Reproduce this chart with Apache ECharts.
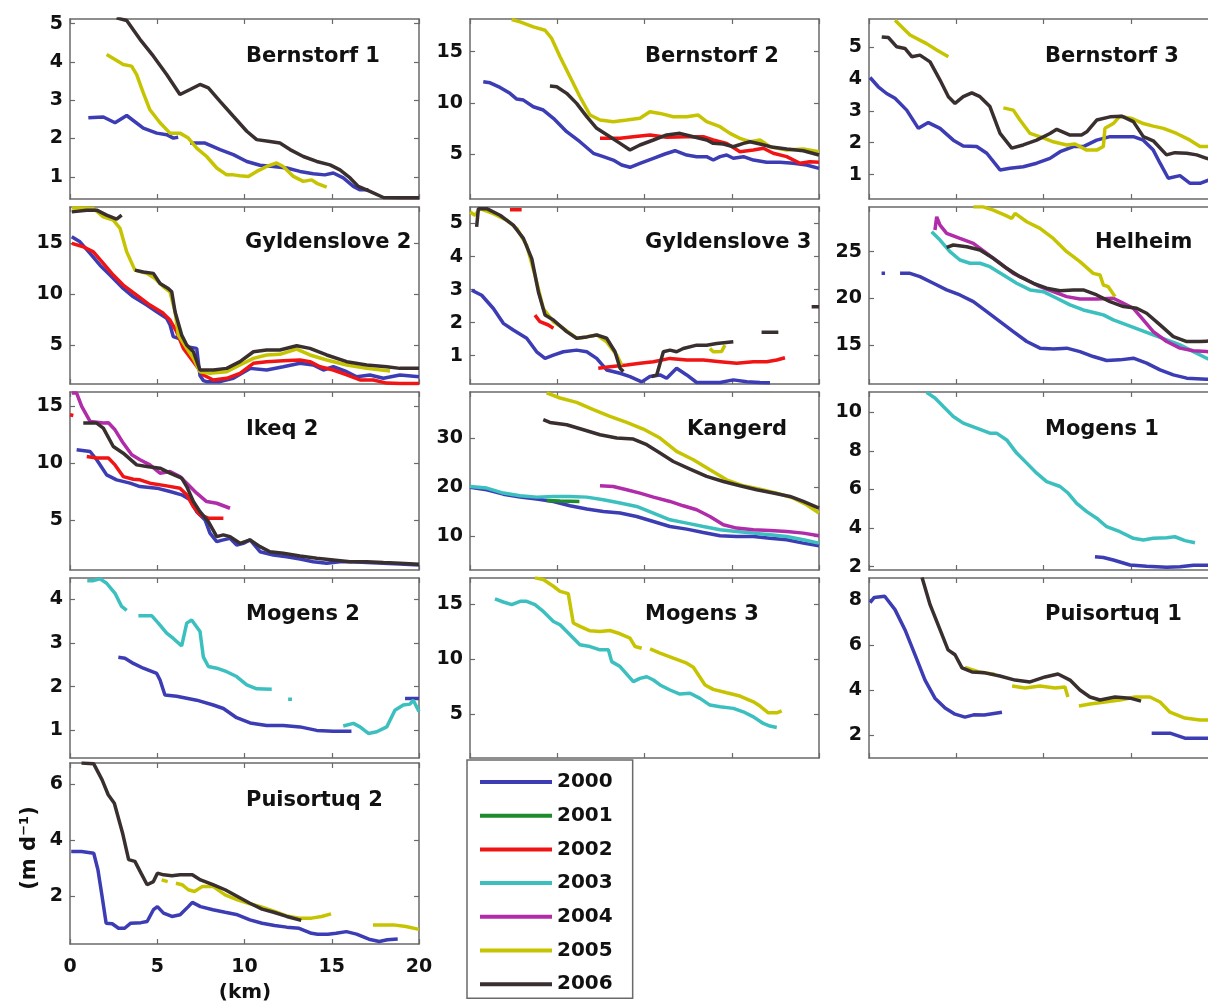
<!DOCTYPE html>
<html><head><meta charset="utf-8">
<script src="https://cdn.jsdelivr.net/npm/echarts@6/dist/echarts.min.js"></script>
<style>html,body{margin:0;padding:0;background:#fff}#c{width:1208px;height:1003px}</style>
</head><body><div id="c"></div><script>
// ---------------- DATA ----------------
const YEARS = ['2000','2001','2002','2003','2004','2005','2006'];
const xTicks = [0,5,10,15,20];

// Bernstorf 1
const b1_yRange = [0.42, 5.12];
const b1_yTicks = [1,2,3,4,5];
const b1_2000 = [
 [[1.05,2.54],[1.91,2.56],[2.58,2.41],[3.25,2.6],[4.2,2.27],[4.97,2.14],[5.54,2.1],[5.92,2.01],[6.2,2.03]],
 [[6.88,1.88],[7.74,1.88],[8.6,1.71],[9.36,1.58],[10.13,1.4],[10.89,1.3],[11.65,1.27],[12.42,1.23],[13.18,1.14],[13.94,1.08],[14.6,1.05],[15.09,1.1],[15.66,0.97],[16.24,0.75],[16.6,0.66],[17.1,0.66]]];
const b1_2005 = [
 [[2.1,4.19],[2.58,4.06],[3.05,3.93],[3.53,3.89],[3.82,3.67],[4.2,3.19],[4.58,2.75],[5.16,2.41],[5.73,2.14],[6.3,2.14],[6.78,2.01],[7.26,1.75],[7.83,1.53],[8.41,1.23],[8.98,1.05],[9.36,1.05],[9.74,1.03],[10.22,1.01],[10.7,1.14],[11.27,1.27],[11.84,1.36],[12.22,1.27],[12.8,1.01],[13.37,0.88],[13.85,0.92],[14.14,0.83],[14.71,0.73]]];
const b1_2006 = [
 [[2.67,5.15],[3.25,5.08],[4.01,4.59],[4.78,4.15],[5.54,3.67],[6.3,3.15],[6.88,3.28],[7.45,3.41],[7.93,3.32],[8.6,2.97],[9.36,2.58],[10.13,2.19],[10.7,1.97],[11.46,1.92],[12.03,1.88],[12.61,1.71],[13.37,1.53],[14.14,1.4],[14.9,1.31],[15.47,1.18],[16.05,0.97],[16.52,0.75],[17.19,0.62],[17.96,0.46],[18.9,0.45],[20,0.45]]];

// Bernstorf 2
const b2_yRange = [0.6, 18.2];
const b2_yTicks = [5,10,15];
const b2_2000 = [
 [[0.76,12.06],[1.15,11.96],[1.72,11.51],[2.29,10.93],[2.68,10.37],[3.06,10.27],[3.63,9.62],[4.2,9.3],[4.78,8.49],[5.54,7.18],[6.3,6.2],[7.07,5.07],[7.64,4.74],[8.21,4.41],[8.69,3.93],[9.17,3.7],[9.74,4.09],[10.51,4.58],[11.17,5.0],[11.75,5.32],[12.42,4.9],[12.99,4.74],[13.56,4.74],[13.94,4.41],[14.33,4.74],[14.71,4.9],[15.09,4.58],[15.67,4.74],[16.24,4.41],[17,4.19],[17.77,4.19],[18.53,4.09],[19.29,3.93],[20,3.6]]];
const b2_2002 = [
 [[7.45,6.53],[8.6,6.53],[9.36,6.69],[10.31,6.86],[11.27,6.63],[12.42,6.69],[13.37,6.69],[13.94,6.37],[14.71,6.04],[15.47,5.23],[16.24,5.39],[16.81,5.56],[17.38,5.07],[18.15,4.74],[18.91,4.09],[19.48,4.25],[20,4.19]]];
const b2_2005 = [
 [[2.39,18.15],[2.87,17.92],[3.63,17.43],[4.3,17.1],[4.68,16.3],[5.16,14.5],[5.73,12.55],[6.3,10.6],[6.88,8.81],[7.45,8.32],[8.21,8.16],[8.98,8.32],[9.74,8.49],[10.31,9.13],[10.89,8.97],[11.65,8.64],[12.42,8.64],[13.08,8.81],[13.56,8.16],[14.33,7.67],[14.9,7.02],[15.47,6.53],[16.05,6.2],[16.62,6.37],[17.19,5.71],[18.15,5.39],[19.1,5.49],[20,5.23]]];
const b2_2006 = [
 [[4.58,11.64],[4.97,11.58],[5.54,10.93],[6.11,9.95],[6.69,8.65],[7.26,7.51],[8.02,6.69],[8.6,6.04],[9.17,5.39],[9.74,5.88],[10.51,6.37],[11.27,6.86],[12.03,7.02],[12.8,6.69],[13.56,6.37],[13.94,6.04],[14.52,5.98],[15.09,5.71],[15.67,6.04],[16.05,6.2],[16.62,5.98],[17.38,5.65],[18.15,5.49],[19.1,5.32],[20,4.9]]];

// Bernstorf 3
const b3_yRange = [0.24, 5.87];
const b3_yTicks = [1,2,3,4,5];
const b3_2000 = [
 [[0.06,4.04],[0.53,3.75],[1.01,3.54],[1.49,3.39],[2.16,3.02],[2.83,2.45],[3.4,2.63],[4.07,2.45],[4.83,2.08],[5.4,1.9],[6.17,1.88],[6.75,1.67],[7.51,1.15],[8.08,1.2],[8.84,1.25],[9.61,1.36],[10.37,1.51],[10.95,1.72],[11.71,1.88],[12.28,1.88],[13.05,2.08],[13.81,2.19],[15.15,2.19],[15.72,2.08],[16.29,1.77],[16.68,1.36],[17.15,0.89],[17.82,0.97],[18.4,0.73],[18.97,0.73],[19.45,0.83],[20,0.88]]];
const b3_2005 = [
 [[1.49,5.83],[2.35,5.37],[3.3,5.1],[3.88,4.9],[4.55,4.69]],
 [[7.7,3.09],[8.27,3.02],[8.65,2.71],[9.23,2.29],[9.9,2.17],[10.56,2.03],[11.33,1.93],[11.81,1.96],[12.48,1.77],[13.05,1.77],[13.43,1.88],[13.52,2.45],[14,2.6],[14.38,2.83],[15.05,2.76],[15.72,2.6],[16.29,2.52],[16.87,2.45],[17.63,2.29],[18.4,2.08],[18.97,1.88],[19.45,1.88],[20,1.86]]];
const b3_2006 = [
 [[0.73,5.31],[1.11,5.29],[1.59,5.0],[2.06,4.95],[2.45,4.69],[2.92,4.74],[3.5,4.53],[4.07,3.96],[4.55,3.44],[4.93,3.23],[5.4,3.44],[5.89,3.56],[6.36,3.44],[6.93,3.13],[7.51,2.29],[8.18,1.83],[8.84,1.93],[9.61,2.08],[10.37,2.29],[10.76,2.42],[11.52,2.24],[12.18,2.24],[12.48,2.34],[13.05,2.71],[13.81,2.81],[14.48,2.83],[15.15,2.66],[15.72,2.19],[16.29,2.06],[17.05,1.62],[17.53,1.69],[18.21,1.67],[18.78,1.62],[19.35,1.51],[20,1.45]]];

// Gyldenslove 2
const g2_yRange = [1.16, 18.6];
const g2_yTicks = [5,10,15];
const g2_2000 = [
 [[0.1,15.66],[0.57,15.17],[1.15,14.03],[1.72,12.87],[2.29,11.89],[3.05,10.58],[3.63,9.75],[4.4,8.94],[4.97,8.28],[5.54,7.63],[5.73,7.0],[5.92,5.82],[6.3,5.6],[6.69,4.83],[7.26,4.67],[7.45,2.0],[7.64,1.5],[7.83,1.39],[8.6,1.39],[9.36,1.72],[10.32,2.7],[11.27,2.54],[12.22,2.86],[13.18,3.2],[13.94,3.03],[14.52,2.54],[15.09,2.86],[15.86,2.37],[16.43,1.88],[17.19,2.05],[17.96,1.72],[18.91,2.05],[20,1.88]]];
const g2_2002 = [
 [[0.1,15.01],[0.76,14.68],[1.34,14.18],[1.91,13.04],[2.48,11.89],[3.05,10.91],[3.82,9.92],[4.58,8.94],[5.35,8.12],[5.73,7.46],[6.11,6.31],[6.5,4.67],[7.07,3.36],[7.64,2.05],[8.21,1.56],[8.98,1.72],[9.74,2.21],[10.51,3.2],[11.27,3.36],[12.22,3.45],[13.18,3.52],[13.75,3.36],[14.33,2.86],[15.09,2.54],[15.86,2.05],[16.62,1.56],[17.38,1.56],[18.15,1.25],[18.91,1.2],[20,1.2]]];
const g2_2005 = [
 [[0.1,18.51],[0.76,18.51],[1.34,18.45],[1.91,17.63],[2.48,17.3],[2.87,16.49],[3.25,14.18],[3.72,12.38],[4.4,12.06],[4.87,11.56],[5.35,10.74],[5.73,10.25],[6.02,8.28],[6.21,5.98],[6.69,4.67],[7.07,3.69],[7.45,2.37],[8.02,2.21],[8.98,2.37],[9.74,3.03],[10.51,3.69],[11.27,4.02],[12.03,4.08],[12.99,4.6],[13.75,4.02],[14.71,3.52],[15.86,3.03],[17,2.7],[18.34,2.44]]];
const g2_2006 = [
 [[0.1,18.12],[0.96,18.29],[1.53,18.29],[2.1,17.8],[2.67,17.4],[2.96,17.8]],
 [[3.72,12.38],[4.2,12.2],[4.78,12.06],[5.16,11.07],[5.63,10.58],[5.83,10.25],[6.02,8.28],[6.4,5.98],[6.69,5.0],[7.07,4.34],[7.45,2.54],[8.21,2.54],[8.98,2.7],[9.74,3.36],[10.51,4.34],[11.27,4.51],[12.03,4.51],[12.99,4.93],[13.75,4.67],[14.71,4.02],[15.86,3.36],[17,3.03],[18.15,2.86],[18.91,2.7],[20,2.7]]];

// Gyldenslove 3
const g3_yRange = [0.145, 5.5];
const g3_yTicks = [1,2,3,4,5];
const g3_2000 = [
 [[0.1,2.98],[0.67,2.83],[1.34,2.43],[1.91,1.98],[2.48,1.78],[3.25,1.53],[3.82,1.12],[4.3,0.92],[4.78,1.02],[5.35,1.12],[6.11,1.17],[6.69,1.12],[7.26,0.92],[7.83,0.57],[8.6,0.47],[9.17,0.37],[9.84,0.21],[10.31,0.37],[10.89,0.42],[11.27,0.32],[11.84,0.62],[12.42,0.42],[12.99,0.19],[14.33,0.19],[15.09,0.27],[15.86,0.21],[16.62,0.19],[17.19,0.18]]];
const g3_2002 = [
 [[2.29,5.42],[2.96,5.42]],
 [[3.72,2.23],[4.01,2.03],[4.49,1.93],[4.78,1.83]],
 [[7.35,0.62],[8.02,0.67],[8.98,0.72],[9.74,0.77],[10.51,0.82],[11.46,0.92],[12.42,0.87],[13.37,0.87],[14.33,0.82],[15.28,0.77],[16.24,0.82],[17,0.82],[17.58,0.87],[18.05,0.94]]];
const g3_2005 = [
 [[0,5.35],[0.29,5.25],[0.57,5.45],[1.34,5.3],[2.1,5.1],[2.68,4.85],[3.25,4.34],[3.72,3.44],[4.2,2.43],[4.78,2.03],[5.35,1.83],[6.11,1.53],[6.69,1.57],[7.26,1.63],[7.83,1.42],[8.41,1.02],[8.69,0.72]],
 [[13.75,1.22],[13.94,1.12],[14.42,1.13],[14.61,1.32]]];
const g3_2006 = [
 [[0.38,4.9],[0.48,5.45],[0.96,5.45],[1.72,5.25],[2.48,4.95],[3.06,4.55],[3.54,3.94],[3.92,2.93],[4.3,2.23],[4.78,2.08],[5.54,1.73],[6.11,1.53],[6.69,1.57],[7.26,1.63],[7.83,1.53],[8.31,1.12],[8.6,0.62],[8.79,0.52]],
 [[10.41,0.37],[10.7,0.42],[11.08,1.12],[11.46,1.17],[11.84,1.12],[12.22,1.22],[12.99,1.32],[13.56,1.32],[14.14,1.37],[15.09,1.42]],
 [[16.71,1.71],[17.67,1.71]],
 [[19.58,2.48],[20,2.48]]];

// Helheim
const hel_yRange = [10.8, 29.8];
const hel_yTicks = [15,20,25];
const hel_2000 = [
 [[0.72,22.68],[0.92,22.68]],
 [[1.78,22.68],[2.35,22.68],[2.92,22.32],[3.69,21.61],[4.45,20.9],[5.21,20.36],[5.98,19.64],[6.75,18.57],[7.51,17.5],[8.27,16.43],[9.04,15.36],[9.8,14.65],[10.56,14.57],[11.33,14.65],[12.09,14.28],[12.85,13.75],[13.62,13.32],[14.38,13.39],[15.15,13.57],[15.91,13.04],[16.68,12.32],[17.44,11.78],[18.21,11.43],[19.35,11.32],[20,11.3]]];
const hel_2003 = [
 [[3.59,27.14],[4.07,26.25],[4.64,25.0],[5.21,24.11],[5.79,23.76],[6.36,23.76],[6.93,23.39],[7.7,22.5],[8.46,21.61],[9.23,20.9],[9.99,20.71],[10.76,20.0],[11.52,19.29],[12.28,18.75],[13.05,18.4],[13.43,18.22],[14,17.68],[14.77,17.14],[15.53,16.61],[16.29,16.07],[17.06,15.54],[17.82,15.0],[18.59,14.28],[19.35,13.57],[20,13.0]]];
const hel_2004 = [
 [[3.78,27.33],[3.88,28.75],[4.07,27.86],[4.45,26.97],[5.21,26.43],[5.98,25.9],[6.75,24.83],[7.51,23.76],[8.27,22.68],[9.04,21.97],[9.8,21.25],[10.56,20.71],[11.33,20.18],[12.09,19.93],[13.05,19.93],[14,20.0],[14.58,19.47],[15.15,18.93],[15.72,17.68],[16.29,16.43],[17.06,15.36],[17.82,14.65],[18.59,14.36],[19.35,14.28],[20,14.2]]];
const hel_2005 = [
 [[5.98,29.82],[6.55,29.82],[7.12,29.47],[7.79,28.93],[8.18,28.58],[8.37,29.11],[9.04,28.22],[9.8,27.5],[10.56,26.43],[11.33,25.0],[12.09,23.93],[12.85,22.68],[13.24,22.5],[13.43,21.43],[13.71,21.25],[14.1,20.18]]];
const hel_2006 = [
 [[4.45,25.47],[4.83,25.72],[5.6,25.54],[6.36,25.18],[7.12,24.29],[7.89,23.22],[8.65,22.32],[9.42,21.61],[10.18,21.08],[10.95,20.82],[11.71,20.9],[12.28,20.9],[13.05,20.36],[13.81,19.64],[14.58,19.11],[15.34,18.93],[15.91,18.4],[16.68,17.14],[17.44,15.89],[18.21,15.36],[18.97,15.36],[19.35,15.4],[20,15.45]]];

// Ikeq 2
const ik_yRange = [0.59, 16.27];
const ik_yTicks = [5,10,15];
const ik_2000 = [
 [[0.38,11.18],[1.15,11.03],[1.53,10.3],[2.1,8.97],[2.67,8.53],[3.44,8.24],[4.01,7.94],[4.97,7.8],[5.73,7.5],[6.4,7.21],[6.88,6.77],[7.26,5.73],[7.74,5.0],[8.02,3.83],[8.41,3.09],[8.79,3.24],[9.17,3.38],[9.55,2.79],[9.93,2.94],[10.32,3.24],[10.89,2.2],[11.65,1.91],[12.42,1.76],[13.18,1.56],[13.94,1.32],[14.71,1.18],[15.47,1.32],[16.24,1.32],[17,1.24],[17.96,1.18],[18.91,1.12],[20,1.03]]];
const ik_2002 = [
 [[0,14.27],[0.19,14.2]],
 [[0.96,10.59],[1.53,10.45],[2.2,10.45],[2.58,9.85],[3.05,8.82],[3.63,8.59],[4.01,8.53],[4.58,8.24],[5.54,8.0],[6.3,7.8],[6.69,7.21],[7.07,6.17],[7.45,5.44],[7.93,5.15],[8.79,5.15]]];
const ik_2004 = [
 [[0.1,16.18],[0.38,16.18],[0.67,15.0],[1.15,13.68],[1.91,13.53],[2.2,13.56],[2.58,12.94],[3.05,11.77],[3.54,10.74],[4.01,10.3],[4.58,9.85],[5.16,9.12],[5.73,9.26],[6.3,8.82],[6.69,8.24],[7.26,7.36],[7.83,6.62],[8.41,6.47],[9.17,6.03]]];
const ik_2006 = [
 [[0.76,13.53],[1.53,13.53],[1.91,13.09],[2.48,11.47],[3.05,10.88],[3.82,9.85],[4.4,9.7],[5.16,9.56],[5.73,9.12],[6.4,8.68],[6.69,7.94],[7.07,6.62],[7.45,5.73],[7.93,4.85],[8.41,3.53],[8.79,3.68],[9.17,3.53],[9.74,2.94],[10.32,3.24],[10.89,2.65],[11.46,2.2],[12.22,2.06],[13.18,1.82],[14.14,1.62],[15.09,1.47],[16.05,1.32],[17,1.32],[17.96,1.24],[18.91,1.18],[20,1.09]]];

// Kangerd
const k_yRange = [3.2, 39.35];
const k_yTicks = [10,20,30];
const k_2000 = [
 [[0,20.0],[0.96,19.5],[1.91,18.6],[2.87,18.0],[3.82,17.6],[4.78,17.12],[5.73,16.24],[6.69,15.57],[7.64,15.08],[8.6,14.76],[9.55,14.07],[10.51,13.05],[11.46,12.03],[12.42,11.5],[13.37,10.81],[14.33,10.14],[15.28,10.0],[16.24,10.0],[17.19,9.67],[18.15,9.33],[19.1,8.66],[20,8.11]]];
const k_2001 = [
 [[4.39,17.32],[5.16,17.2],[6.27,17.12]]];
const k_2003 = [
 [[0,20.16],[0.96,19.84],[1.91,18.82],[2.87,18.27],[3.82,18.0],[4.78,18.14],[5.73,18.14],[6.69,18.0],[7.64,17.46],[8.6,16.79],[9.55,16.1],[10.51,14.76],[11.46,13.4],[12.42,12.72],[13.37,12.03],[14.33,11.36],[15.28,11.02],[16.24,10.69],[17.19,10.35],[18.15,10.0],[19.1,9.33],[20,8.66]]];
const k_2004 = [
 [[7.45,20.3],[8.21,20.16],[8.98,19.49],[9.74,18.82],[10.51,18.0],[11.46,17.12],[12.22,16.24],[12.99,15.43],[13.75,14.07],[14.52,12.38],[15.28,11.71],[16.24,11.36],[17.19,11.23],[18.15,11.02],[19.1,10.69],[20,10.14]]];
const k_2005 = [
 [[4.39,39.15],[5.16,38.13],[6.11,37.24],[7.07,35.75],[8.02,34.39],[8.98,33.17],[9.93,31.83],[10.89,30.0],[11.84,27.28],[12.8,25.59],[13.75,23.56],[14.71,21.52],[15.67,20.3],[16.62,19.63],[17.58,18.82],[18.53,17.8],[19.29,16.44],[20,14.76]]];
const k_2006 = [
 [[4.2,33.72],[4.58,33.17],[5.54,32.7],[6.5,31.69],[7.45,30.67],[8.41,30.0],[9.36,29.8],[10.13,28.64],[10.89,26.95],[11.65,25.24],[12.61,23.7],[13.56,22.2],[14.52,21.18],[15.47,20.3],[16.43,19.49],[17.38,18.82],[18.34,18.13],[19.1,17.12],[20,15.77]]];

// Mogens 1
const m1_yRange = [1.83, 11.04];
const m1_yTicks = [2,4,6,8,10];
const m1_2000 = [
 [[12.95,2.52],[13.43,2.48],[14,2.35],[14.96,2.09],[15.91,2.03],[17.06,1.97],[17.82,2.0],[18.59,2.07],[19.35,2.07],[20,2.08]]];
const m1_2003 = [
 [[3.3,11.02],[3.78,10.73],[4.26,10.29],[4.83,9.77],[5.4,9.43],[6.17,9.17],[6.93,8.91],[7.31,8.91],[7.89,8.56],[8.46,7.88],[9.04,7.36],[9.61,6.84],[10.18,6.4],[10.95,6.15],[11.42,5.8],[11.9,5.28],[12.48,4.85],[13.05,4.51],[13.62,4.07],[14.38,3.81],[15.15,3.47],[15.72,3.38],[16.29,3.47],[17.05,3.5],[17.53,3.55],[18.11,3.35],[18.68,3.24]]];

// Mogens 2
const m2_yRange = [0.37, 4.48];
const m2_yTicks = [1,2,3,4];
const m2_2000 = [
 [[2.77,2.67],[3.15,2.65],[3.63,2.53],[4.2,2.42],[4.97,2.3],[5.16,2.15],[5.44,1.81],[6.11,1.78],[7.26,1.69],[8.21,1.58],[8.79,1.5],[9.55,1.29],[10.32,1.17],[11.27,1.11],[12.22,1.11],[13.18,1.08],[14.14,1.0],[15.09,0.98],[16.13,0.98]],
 [[19.2,1.73],[20,1.73]]];
const m2_2003 = [
 [[0.99,4.42],[1.34,4.42],[1.72,4.46],[2.1,4.36],[2.58,4.13],[2.96,3.83],[3.25,3.74]],
 [[3.92,3.62],[4.68,3.62],[5.06,3.45],[5.54,3.22],[5.92,3.1],[6.4,2.93],[6.69,3.45],[6.97,3.52],[7.45,3.26],[7.64,2.68],[7.93,2.46],[8.41,2.42],[8.98,2.34],[9.55,2.23],[10.13,2.04],[10.7,1.95],[11.56,1.94]],
 [[12.5,1.71],[12.72,1.71]],
 [[15.66,1.1],[16.24,1.16],[16.62,1.08],[17.1,0.93],[17.58,0.97],[18.15,1.08],[18.62,1.46],[19.1,1.58],[19.48,1.6],[19.67,1.69],[20,1.43]]];

// Mogens 3
const m3_yRange = [1.01, 17.37];
const m3_yTicks = [5,10,15];
const m3_2003 = [
 [[1.43,15.47],[1.91,15.19],[2.39,14.95],[2.87,15.25],[3.25,15.25],[3.72,14.95],[4.2,14.33],[4.78,13.42],[5.16,13.12],[5.73,12.21],[6.3,11.3],[6.88,11.14],[7.45,10.84],[7.93,10.84],[8.12,9.77],[8.6,9.32],[9.36,7.95],[9.74,8.25],[10.13,8.4],[10.51,8.1],[10.89,7.65],[11.46,7.19],[12.03,6.82],[12.61,6.89],[13.18,6.43],[13.75,5.82],[14.33,5.67],[15.09,5.52],[15.66,5.21],[16.24,4.75],[16.81,4.15],[17.19,3.91],[17.58,3.79]]];
const m3_2005 = [
 [[3.72,17.38],[4.2,17.23],[4.78,16.62],[5.16,16.16],[5.63,15.95],[5.92,13.28],[6.3,12.97],[6.88,12.57],[7.45,12.51],[8.02,12.6],[8.6,12.3],[9.17,11.9],[9.46,11.14],[9.84,10.99]],
 [[10.32,10.93],[10.89,10.54],[11.65,10.08],[12.42,9.63],[12.8,9.26],[13.47,7.65],[13.94,7.25],[14.71,6.94],[15.47,6.64],[16.24,6.12],[16.62,5.73],[17.1,5.12],[17.58,5.12],[17.86,5.3]]];

// Puisortuq 1
const p1_yRange = [0.99, 8.96];
const p1_yTicks = [2,4,6,8];
const p1_2000 = [
 [[0.06,7.87],[0.3,8.1],[0.9,8.15],[1.49,7.56],[2.06,6.67],[2.64,5.56],[3.21,4.44],[3.78,3.64],[4.36,3.2],[4.93,2.93],[5.5,2.8],[6.0,2.9],[6.6,2.89],[7.62,3.02]],
 [[16.2,2.09],[17.25,2.09],[18.1,1.87],[19.4,1.87],[20,1.85]]];
const p1_2005 = [
 [[5.5,5.0],[6.3,4.8],[7.2,4.7]],
 [[8.2,4.18],[8.94,4.09],[9.8,4.18],[10.66,4.09],[11.23,4.13],[11.4,3.69]],
 [[12.03,3.29],[12.66,3.38],[13.52,3.47],[14.38,3.56],[15.24,3.69],[16.1,3.69],[16.68,3.47],[17.25,3.02],[18.1,2.76],[18.97,2.67],[19.4,2.67],[20,2.65]]];
const p1_2006 = [
 [[3.04,8.98],[3.5,7.78],[4.07,6.67],[4.53,5.78],[4.93,5.56],[5.33,4.98],[5.9,4.8],[6.65,4.76],[7.5,4.62],[8.37,4.44],[9.23,4.36],[10.09,4.58],[10.83,4.71],[11.52,4.44],[12.09,4.0],[12.66,3.69],[13.24,3.56],[14.1,3.69],[14.96,3.64],[15.59,3.51]]];

// Puisortuq 2
const p2_yRange = [0.31, 6.75];
const p2_yTicks = [2,4,6];
const p2_2000 = [
 [[0.07,3.6],[0.66,3.6],[1.36,3.54],[1.6,2.95],[1.84,2.0],[2.07,1.05],[2.42,1.03],[2.78,0.87],[3.13,0.87],[3.48,1.05],[4.07,1.07],[4.42,1.11],[4.78,1.53],[5.01,1.64],[5.36,1.41],[5.84,1.29],[6.31,1.35],[6.78,1.64],[7.01,1.79],[7.48,1.64],[8.19,1.53],[8.89,1.44],[9.6,1.35],[10.31,1.17],[11.01,1.05],[11.72,0.97],[12.42,0.91],[13.13,0.87],[13.84,0.69],[14.19,0.66],[14.78,0.66],[15.25,0.69],[15.84,0.75],[16.42,0.66],[17.13,0.48],[17.72,0.4],[18.19,0.46],[18.78,0.49]]];
const p2_2005 = [
 [[5.25,2.59],[5.6,2.53]],
 [[6.07,2.47],[6.42,2.42],[6.78,2.24],[7.13,2.18],[7.6,2.36],[8.19,2.36],[8.89,2.06],[9.6,1.88],[10.31,1.74],[11.01,1.62],[11.72,1.47],[12.42,1.31],[13.13,1.23],[13.84,1.23],[14.42,1.29],[14.96,1.38]],
 [[17.36,0.99],[18.54,0.99],[19.25,0.93],[20,0.83]]];
const p2_2006 = [
 [[0.66,6.75],[1.36,6.72],[1.84,6.15],[2.19,5.62],[2.54,5.32],[3.01,4.26],[3.36,3.31],[3.72,3.25],[4.07,2.83],[4.42,2.42],[4.78,2.53],[5.01,2.83],[5.36,2.77],[5.84,2.74],[6.31,2.77],[7.01,2.77],[7.48,2.59],[8.19,2.42],[8.89,2.24],[9.6,2.0],[10.31,1.76],[11.01,1.55],[11.72,1.43],[12.42,1.29],[13.25,1.15]]];

// ---------------- PANELS (built from the arrays above) ----------------
const panels = [
 {name:'Bernstorf 1', yRange:b1_yRange, yTicks:b1_yTicks, data:{'2000':b1_2000,'2005':b1_2005,'2006':b1_2006}},
 {name:'Bernstorf 2', yRange:b2_yRange, yTicks:b2_yTicks, data:{'2000':b2_2000,'2002':b2_2002,'2005':b2_2005,'2006':b2_2006}},
 {name:'Bernstorf 3', yRange:b3_yRange, yTicks:b3_yTicks, data:{'2000':b3_2000,'2005':b3_2005,'2006':b3_2006}},
 {name:'Gyldenslove 2', yRange:g2_yRange, yTicks:g2_yTicks, data:{'2000':g2_2000,'2002':g2_2002,'2005':g2_2005,'2006':g2_2006}},
 {name:'Gyldenslove 3', yRange:g3_yRange, yTicks:g3_yTicks, data:{'2000':g3_2000,'2002':g3_2002,'2005':g3_2005,'2006':g3_2006}},
 {name:'Helheim', yRange:hel_yRange, yTicks:hel_yTicks, data:{'2000':hel_2000,'2003':hel_2003,'2004':hel_2004,'2005':hel_2005,'2006':hel_2006}},
 {name:'Ikeq 2', yRange:ik_yRange, yTicks:ik_yTicks, data:{'2000':ik_2000,'2002':ik_2002,'2004':ik_2004,'2006':ik_2006}},
 {name:'Kangerd', yRange:k_yRange, yTicks:k_yTicks, data:{'2000':k_2000,'2001':k_2001,'2003':k_2003,'2004':k_2004,'2005':k_2005,'2006':k_2006}},
 {name:'Mogens 1', yRange:m1_yRange, yTicks:m1_yTicks, data:{'2000':m1_2000,'2003':m1_2003}},
 {name:'Mogens 2', yRange:m2_yRange, yTicks:m2_yTicks, data:{'2000':m2_2000,'2003':m2_2003}},
 {name:'Mogens 3', yRange:m3_yRange, yTicks:m3_yTicks, data:{'2003':m3_2003,'2005':m3_2005}},
 {name:'Puisortuq 1', yRange:p1_yRange, yTicks:p1_yTicks, data:{'2000':p1_2000,'2005':p1_2005,'2006':p1_2006}},
 {name:'Puisortuq 2', yRange:p2_yRange, yTicks:p2_yTicks, data:{'2000':p2_2000,'2005':p2_2005,'2006':p2_2006}}
];

// ---------------- LAYOUT & STYLE ----------------
const COLORS = {'2000':'#3c3cb4','2001':'#1e8a2c','2002':'#f01414','2003':'#3cbfbf','2004':'#b02ca8','2005':'#c6c400','2006':'#3a2f2f'};
const colLeft = [70, 470, 869];
const rowTop = [19, 207, 392, 578, 763];
const rowH = [180, 177, 178, 180, 181];
const PW = 349;
const titlePos = [[246,57],[645,57],[1045,57],[245,243],[645,243],[1095,243],[246,430],[687,430],[1045,430],[246,615],[645,615],[1045,615],[246,801]];
const FONT = '"DejaVu Sans", "Liberation Sans", sans-serif';
const FRAME = '#6a6a6a';

const grid = [], xAxis = [], yAxis = [], series = [], graphic = [];
panels.forEach((p, i) => {
  const r = Math.floor(i / 3), c = i % 3;
  grid.push({left: colLeft[c], top: rowTop[r], width: PW, height: rowH[r], containLabel: false, outerBoundsMode: 'none'});
  const line = {show: true, onZero: false, lineStyle: {color: FRAME, width: 1.5}};
  const tickX = {show: true, inside: true, length: 5, lineStyle: {color: FRAME, width: 1.2}, customValues: xTicks};
  const tickY = {show: true, inside: true, length: 5, lineStyle: {color: FRAME, width: 1.2}, customValues: p.yTicks};
  const lab = {color: '#111', fontFamily: FONT, fontWeight: 'bold', fontSize: 19};
  xAxis.push({gridIndex: i, type: 'value', min: 0, max: 20, position: 'bottom', axisLine: line, axisTick: tickX,
    axisLabel: Object.assign({show: i === 12, margin: 14, customValues: xTicks}, lab), splitLine: {show: false}});
  xAxis.push({gridIndex: i, type: 'value', min: 0, max: 20, position: 'top', axisLine: line, axisTick: tickX,
    axisLabel: {show: false}, splitLine: {show: false}});
  yAxis.push({gridIndex: i, type: 'value', min: p.yRange[0], max: p.yRange[1], position: 'left', axisLine: line, axisTick: tickY,
    axisLabel: Object.assign({show: true, margin: 7, customValues: p.yTicks}, lab), splitLine: {show: false}});
  yAxis.push({gridIndex: i, type: 'value', min: p.yRange[0], max: p.yRange[1], position: 'right', axisLine: line, axisTick: tickY,
    axisLabel: {show: false}, splitLine: {show: false}});
  YEARS.forEach(y => {
    const segs = p.data[y];
    if (!segs) return;
    segs.forEach(seg => {
      series.push({type: 'line', name: y, xAxisIndex: 2 * i, yAxisIndex: 2 * i, data: seg,
        symbol: 'none', showSymbol: false, clip: true, silent: true, animation: false, z: 3,
        lineStyle: {color: COLORS[y], width: 3.5}, itemStyle: {color: COLORS[y]}});
    });
  });
  graphic.push({type: 'text', x: titlePos[i][0], y: titlePos[i][1], z: 10,
    style: {text: p.name, fill: '#111', font: 'bold 21px ' + FONT, textVerticalAlign: 'middle', verticalAlign: 'middle'}});
});

graphic.push({type: 'text', x: 30, y: 848, rotation: Math.PI / 2, z: 10,
  style: {text: '(m d⁻¹)', fill: '#111', font: 'bold 21px ' + FONT, textAlign: 'center', align: 'center', textVerticalAlign: 'middle', verticalAlign: 'middle'}});
graphic.push({type: 'text', x: 245, y: 993, z: 10,
  style: {text: '(km)', fill: '#111', font: 'bold 20px ' + FONT, textAlign: 'center', align: 'center', textVerticalAlign: 'middle', verticalAlign: 'middle'}});

const chart = echarts.init(document.getElementById('c'), null, {renderer: 'canvas'});
chart.setOption({
  animation: false,
  backgroundColor: '#fff',
  grid, xAxis, yAxis, series, graphic,
  legend: {
    data: YEARS, orient: 'vertical', left: 467, top: 760,
    icon: 'rect', itemWidth: 72, itemHeight: 4, itemGap: 13.7,
    padding: [12, 20, 4, 13],
    borderColor: FRAME, borderWidth: 1.5, backgroundColor: '#fff',
    selectedMode: false,
    textStyle: {color: '#111', fontFamily: FONT, fontWeight: 'bold', fontSize: 20, lineHeight: 20}
  }
});
</script></body></html>
